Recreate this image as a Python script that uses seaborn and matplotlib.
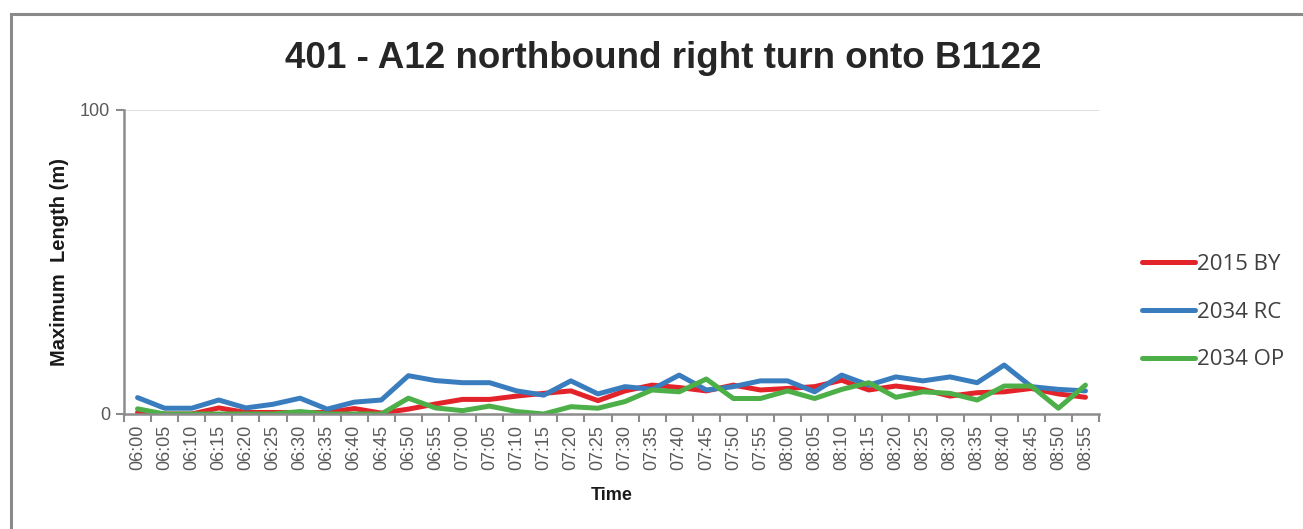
import numpy as np
import pandas as pd
import matplotlib
matplotlib.use('Agg')
import matplotlib.pyplot as plt
import seaborn as sns
from matplotlib.patches import Rectangle
from matplotlib.ticker import FixedLocator

# Time of day labels (5 minute steps)
times = ['06:00', '06:05', '06:10', '06:15', '06:20', '06:25', '06:30', '06:35', '06:40', '06:45',
         '06:50', '06:55', '07:00', '07:05', '07:10', '07:15', '07:20', '07:25', '07:30', '07:35',
         '07:40', '07:45', '07:50', '07:55', '08:00', '08:05', '08:10', '08:15', '08:20', '08:25',
         '08:30', '08:35', '08:40', '08:45', '08:50', '08:55']

# Maximum queue length (m)
by_2015 = [0.5, 0.0, 0.0, 2.0, 0.5, 0.5, 0.5, 0.5, 1.8, 0.3,
           1.6, 3.3, 4.8, 4.8, 5.9, 6.8, 7.6, 4.4, 7.6, 9.5,
           8.7, 7.6, 9.5, 7.9, 8.4, 9.0, 11.1, 7.9, 9.2, 8.1,
           5.9, 7.0, 7.3, 8.4, 6.6, 5.5]
rc_2034 = [5.4, 1.9, 1.9, 4.6, 2.0, 3.2, 5.2, 1.6, 3.9, 4.6,
           12.6, 11.0, 10.3, 10.3, 7.6, 6.2, 10.9, 6.6, 9.0, 8.1,
           12.8, 7.9, 9.0, 10.9, 10.9, 7.3, 12.8, 9.5, 12.2, 10.9,
           12.2, 10.3, 16.1, 9.0, 8.1, 7.6]
op_2034 = [1.7, 0.0, 0.0, 0.0, 0.0, 0.0, 0.8, 0.0, 0.0, 0.0,
           5.2, 2.0, 1.1, 2.6, 0.8, 0.0, 2.4, 1.9, 4.1, 7.9,
           7.3, 11.5, 5.1, 5.1, 7.6, 5.1, 8.1, 10.3, 5.5, 7.3,
           6.8, 4.6, 9.2, 9.2, 1.9, 9.5]

series_names = ['2015 BY', '2034 RC', '2034 OP']
series_colors = ['#E3232A', '#3A7DBF', '#4CAF48']

df = pd.concat([
    pd.DataFrame({'pos': np.arange(len(times)), 'value': vals, 'Scenario': name})
    for name, vals in zip(series_names, [by_2015, rc_2034, op_2034])
])

sns.set_style('white')
plt.rcParams['font.family'] = ['Liberation Sans', 'DejaVu Sans']

fig = plt.figure(figsize=(13.03, 5.29), dpi=100)
ax = fig.add_axes([124 / 1303, 1 - 414 / 529, 975 / 1303, 304 / 529])

# grey frame around the chart (runs off the right and bottom edges)
fig.patches.append(Rectangle((11 / 1303, -0.05), 1.2, 1 - 14 / 529 + 0.05,
                             transform=fig.transFigure, fill=False,
                             edgecolor='#8a8a8a', linewidth=2.2, zorder=0))

sns.lineplot(data=df, x='pos', y='value', hue='Scenario', palette=series_colors,
             linewidth=3.6, sort=False, ax=ax)

ax.set_xlim(-0.5, len(times) - 0.5)
ax.set_ylim(0, 100)

ax.set_yticks([0, 100])
ax.set_yticklabels(['0', '100'], fontsize=13, color='#595959')
ax.axhline(100, color='#d9d9d9', linewidth=1.2, zorder=0)

# labels at the category centres, tick marks on the boundaries
ax.set_xticks(np.arange(len(times)))
ax.set_xticklabels(times, rotation=90, fontsize=13, color='#595959')
ax.xaxis.set_minor_locator(FixedLocator(np.arange(len(times) + 1) - 0.5))
ax.tick_params(axis='x', which='major', length=0, pad=8)
ax.tick_params(axis='x', which='minor', length=6, width=1.5, color='#8c8c8c', bottom=True)
ax.tick_params(axis='y', length=6, width=1.5, color='#8c8c8c', left=True, pad=4)

for side in ['top', 'right']:
    ax.spines[side].set_visible(False)
for side in ['left', 'bottom']:
    ax.spines[side].set_color('#8c8c8c')
    ax.spines[side].set_linewidth(1.8)

ax.set_xlabel('Time', fontsize=13, fontweight='bold', color='#1a1a1a', labelpad=12)
ax.set_ylabel('Maximum  Length (m)', fontsize=14.5, fontweight='bold', color='#1a1a1a', labelpad=8)

fig.text(663 / 1303, 1 - 58 / 529, '401 - A12 northbound right turn onto B1122',
         ha='center', va='center', fontsize=26.5, fontweight='bold', color='#262626')

leg = ax.legend(loc='center left', bbox_to_anchor=(1.033, 0.335), frameon=False,
                handlelength=2.35, labelspacing=1.2, handletextpad=0.1, borderpad=0,
                prop={'family': 'Open Sans', 'size': 16})
for line in leg.get_lines():
    line.set_linewidth(3.6)
for text in leg.get_texts():
    text.set_color('#404040')

fig.savefig('out.png', dpi=100)
